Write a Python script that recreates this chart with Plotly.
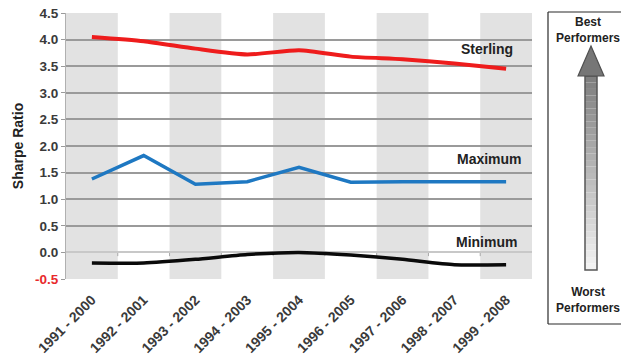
import plotly.graph_objects as go

# Rolling 10-year windows
periods = ["1991 - 2000", "1992 - 2001", "1993 - 2002", "1994 - 2003", "1995 - 2004",
           "1996 - 2005", "1997 - 2006", "1998 - 2007", "1999 - 2008"]

# Sharpe ratios per window
sterling = [4.05, 3.97, 3.83, 3.72, 3.80, 3.68, 3.63, 3.55, 3.45]
maximum = [1.38, 1.82, 1.28, 1.33, 1.60, 1.32, 1.33, 1.33, 1.33]
minimum = [-0.20, -0.20, -0.13, -0.04, 0.00, -0.05, -0.13, -0.23, -0.23]

y_ticks = [-0.5, 0.0, 0.5, 1.0, 1.5, 2.0, 2.5, 3.0, 3.5, 4.0, 4.5]

TXT = "#3a3a3a"
FONT = "Liberation Sans, Arial, sans-serif"

# plot area in pixels (used to place the side panel in paper units)
W, H = 621, 362
L, R, T, B = 66, 532, 13, 279


def px_x(px):
    return (px - L) / (R - L)


def px_y(py):
    return (B - py) / (B - T)


fig = go.Figure()

fig.add_trace(go.Scatter(x=periods, y=sterling, mode="lines",
                         line=dict(color="#ee1c1c", width=4, shape="spline", smoothing=0.6),
                         showlegend=False, hoverinfo="y"))
fig.add_trace(go.Scatter(x=periods, y=maximum, mode="lines",
                         line=dict(color="#1e78c2", width=3.5),
                         showlegend=False, hoverinfo="y"))
fig.add_trace(go.Scatter(x=periods, y=minimum, mode="lines",
                         line=dict(color="#0a0a0a", width=3.5, shape="spline", smoothing=0.6),
                         showlegend=False, hoverinfo="y"))

shapes = []
# alternating grey column bands
for i in range(len(periods)):
    if i % 2 == 0:
        shapes.append(dict(type="rect", xref="x", yref="paper", x0=i - 0.5, x1=i + 0.5,
                           y0=0, y1=1, fillcolor="#e2e2e2", line=dict(width=0), layer="below"))

# small category tick marks hanging below the zero line
for i in range(1, len(periods)):
    shapes.append(dict(type="line", xref="x", yref="y", x0=i - 0.5, x1=i - 0.5,
                       y0=0, y1=-0.07, line=dict(color="#a8a8a8", width=1), layer="below"))

# side panel frame: left, top and bottom edges (it runs off the right of the page)
xl, xr, yt, yb = px_x(548), px_x(621), px_y(12), px_y(324)
frame = dict(color="#2a2a2a", width=1.2)
shapes.append(dict(type="line", xref="paper", yref="paper", x0=xl, x1=xl, y0=yb, y1=yt, line=frame))
shapes.append(dict(type="line", xref="paper", yref="paper", x0=xl, x1=xr, y0=yt, y1=yt, line=frame))
shapes.append(dict(type="line", xref="paper", yref="paper", x0=xl, x1=xr, y0=yb, y1=yb, line=frame))

# arrow shaft with a vertical grey gradient
top, bot = 76, 270
n = 30
for k in range(n):
    y0p = top + (bot - top) * k / n
    y1p = top + (bot - top) * (k + 1) / n
    t = k / (n - 1)
    g = int(0x80 + (0xf2 - 0x80) * t)
    shapes.append(dict(type="rect", xref="paper", yref="paper",
                       x0=px_x(585), x1=px_x(597), y0=px_y(y1p), y1=px_y(y0p),
                       fillcolor=f"rgb({g},{g},{g})", line=dict(width=0)))
shapes.append(dict(type="rect", xref="paper", yref="paper",
                   x0=px_x(585), x1=px_x(597), y0=px_y(bot), y1=px_y(top),
                   fillcolor="rgba(0,0,0,0)", line=dict(color="#555555", width=1.5)))
# arrow head
shapes.append(dict(type="path", xref="paper", yref="paper",
                   path=f"M {px_x(578)},{px_y(76)} L {px_x(591)},{px_y(46)} L {px_x(604)},{px_y(76)} Z",
                   fillcolor="#767676", line=dict(color="#505050", width=1.2)))

annotations = [
    dict(x=periods[7], y=3.83, xref="x", yref="y", text="<b>Sterling</b>", showarrow=False,
         xshift=33, font=dict(size=14, color="#222222", family=FONT)),
    dict(x=periods[7], y=1.75, xref="x", yref="y", text="<b>Maximum</b>", showarrow=False,
         xshift=35, font=dict(size=14, color="#222222", family=FONT)),
    dict(x=periods[7], y=0.20, xref="x", yref="y", text="<b>Minimum</b>", showarrow=False,
         xshift=32, font=dict(size=14, color="#222222", family=FONT)),
    dict(x=px_x(588), y=px_y(30), xref="paper", yref="paper", text="<b>Best<br>Performers</b>",
         showarrow=False, xanchor="center", yanchor="middle",
         font=dict(size=12, color="#222222", family=FONT)),
    dict(x=px_x(588), y=px_y(300), xref="paper", yref="paper", text="<b>Worst<br>Performers</b>",
         showarrow=False, xanchor="center", yanchor="middle",
         font=dict(size=12, color="#222222", family=FONT)),
]

tick_text = [f"<b><span style='color:#e8282b'>{v:.1f}</span></b>" if v < 0 else f"<b>{v:.1f}</b>"
             for v in y_ticks]

fig.update_layout(
    width=W, height=H,
    margin=dict(l=L, r=W - R, t=T, b=H - B, autoexpand=False),
    paper_bgcolor="white", plot_bgcolor="white",
    shapes=shapes, annotations=annotations,
    font=dict(family=FONT, color=TXT),
    xaxis=dict(type="category", range=[-0.5, len(periods) - 0.5], showgrid=False,
               zeroline=False, showline=False, ticks="", tickangle=-45,
               ticklabelstandoff=9, automargin=False,
               tickvals=periods, ticktext=[f"<b>{p}</b>" for p in periods],
               tickfont=dict(size=14, color=TXT, family=FONT)),
    yaxis=dict(range=[-0.5, 4.5], tickvals=y_ticks, ticktext=tick_text,
               showgrid=True, gridcolor="#9a9a9a", gridwidth=1.5,
               zeroline=True, zerolinecolor="#c8c8c8", zerolinewidth=1.5,
               showline=True, linecolor="#b0b0b0", linewidth=1,
               ticks="outside", ticklen=4, tickcolor="#9a9a9a", tickwidth=1,
               automargin=False,
               tickfont=dict(size=13.5, color=TXT, family=FONT),
               title=dict(text="<b>Sharpe Ratio</b>", standoff=8,
                          font=dict(size=14, color="#222222", family=FONT))),
)

fig.write_html("out.html")
